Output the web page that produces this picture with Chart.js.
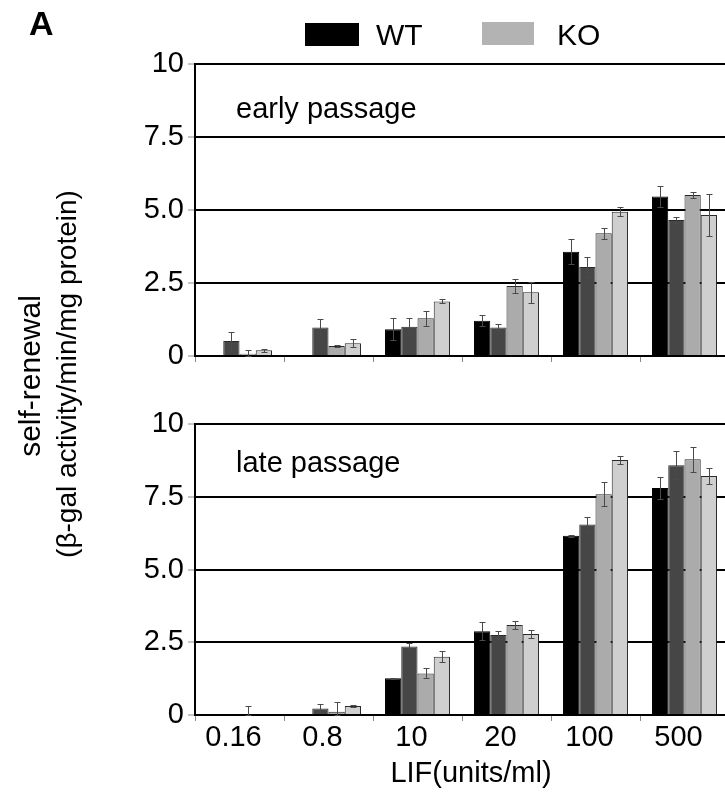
<!DOCTYPE html>
<html>
<head>
<meta charset="utf-8">
<script src="https://cdn.jsdelivr.net/npm/chart.js@4"></script>
<style>
  html, body { margin: 0; padding: 0; background: #fff; overflow: hidden; }
  #wrap { position: relative; width: 725px; height: 798px; overflow: hidden; }
  .layer { position: absolute; left: 0; top: 0; }
</style>
</head>
<body>
<div id="wrap">
  <div class="layer"><canvas id="bottom" width="730" height="798"></canvas></div>
  <div class="layer"><canvas id="top" width="730" height="378"></canvas></div>
</div>
<script>
// ---- data ----
const categories = ['0.16', '0.8', '10', '20', '100', '500'];
const seriesNames = ['WT-1', 'WT-2', 'KO-1', 'KO-2'];
const seriesColors = ['#000000', '#464646', '#ababab', '#cfcfcf'];
const legendNames = ['WT', 'KO'];
const legendColors = ['#000000', '#b3b3b3'];

const earlyWT1 = [0, 0, 0.92, 1.21, 3.57, 5.46];
const earlyWT2 = [0.51, 0.98, 1.00, 0.98, 3.05, 4.66];
const earlyKO1 = [0.08, 0.34, 1.29, 2.40, 4.20, 5.51];
const earlyKO2 = [0.20, 0.44, 1.87, 2.18, 4.94, 4.83];
const earlyErrWT1 = [0, 0, 0.37, 0.18, 0.43, 0.36];
const earlyErrWT2 = [0.30, 0.28, 0.29, 0.10, 0.35, 0.09];
const earlyErrKO1 = [0.14, 0.02, 0.25, 0.23, 0.19, 0.11];
const earlyErrKO2 = [0.05, 0.14, 0.07, 0.37, 0.15, 0.71];

const lateWT1 = [0, 0, 1.26, 2.88, 6.16, 7.80];
const lateWT2 = [0, 0.22, 2.35, 2.75, 6.55, 8.58];
const lateKO1 = [0, 0.11, 1.43, 3.09, 7.59, 8.79];
const lateKO2 = [0, 0.31, 2.00, 2.78, 8.76, 8.21];
const lateErrWT1 = [0, 0, 0.02, 0.31, 0.03, 0.39];
const lateErrWT2 = [0, 0.15, 0.11, 0.14, 0.26, 0.48];
const lateErrKO1 = [0.31, 0.34, 0.17, 0.14, 0.41, 0.43];
const lateErrKO2 = [0, 0.02, 0.19, 0.14, 0.15, 0.27];

const yTickValues = [0, 2.5, 5, 7.5, 10];
const yTickLabels = ['0', '2.5', '5.0', '7.5', '10'];

const FONT = "'Liberation Sans', Arial, Helvetica, sans-serif";

function makeDatasets(values) {
  return values.map((v, i) => ({
    label: seriesNames[i],
    data: v,
    backgroundColor: seriesColors[i],
    borderColor: i === 0 ? '#000' : '#2a2a2a',
    borderWidth: 1,
    categoryPercentage: 0.73,
    barPercentage: 1.0
  }));
}

const errorBarPlugin = {
  id: 'errorBars',
  afterDatasetsDraw(chart, args, opts) {
    const errs = opts.errors || [];
    const ys = chart.scales.y;
    const ctx = chart.ctx;
    ctx.save();
    ctx.strokeStyle = '#4a4a4a';
    ctx.lineWidth = 1;
    chart.data.datasets.forEach((ds, i) => {
      const meta = chart.getDatasetMeta(i);
      meta.data.forEach((bar, j) => {
        const e = errs[i] ? errs[i][j] : 0;
        if (!e) return;
        const v = ds.data[j];
        const x = Math.round(bar.x) + 0.5;
        const yt = Math.round(ys.getPixelForValue(v + e)) + 0.5;
        const yb = Math.round(ys.getPixelForValue(Math.max(0, v - e))) + 0.5;
        ctx.beginPath();
        ctx.moveTo(x, yt); ctx.lineTo(x, yb);
        ctx.moveTo(x - 3, yt); ctx.lineTo(x + 3, yt);
        ctx.moveTo(x - 3, yb); ctx.lineTo(x + 3, yb);
        ctx.stroke();
      });
    });
    ctx.restore();
  }
};

const textPlugin = {
  id: 'texts',
  afterDraw(chart, args, opts) {
    const ctx = chart.ctx;
    ctx.save();
    ctx.fillStyle = '#000';
    (opts.items || []).forEach(t => {
      ctx.save();
      ctx.font = t.font;
      ctx.textAlign = t.align || 'left';
      ctx.textBaseline = t.baseline || 'alphabetic';
      ctx.translate(t.x, t.y);
      if (t.rotate) ctx.rotate(t.rotate);
      ctx.fillText(t.text, 0, 0);
      ctx.restore();
    });
    (opts.boxes || []).forEach(b => {
      ctx.fillStyle = b.color;
      ctx.fillRect(b.x, b.y, b.w, b.h);
    });
    ctx.restore();
  }
};

function yScaleOptions() {
  return {
    min: 0, max: 10,
    afterBuildTicks(scale) { scale.ticks = yTickValues.map(v => ({ value: v })); },
    afterFit(scale) { scale.width = 195; },
    ticks: {
      font: { family: FONT, size: 29 },
      color: '#000',
      padding: 4,
      callback(value) { const k = yTickValues.indexOf(value); return k >= 0 ? yTickLabels[k] : ''; }
    },
    grid: {
      color: ctx => (ctx.tick && ctx.tick.value === 0) ? 'rgba(0,0,0,0)' : '#000',
      lineWidth: 2,
      tickColor: '#8a8a8a',
      tickLength: 7,
      tickWidth: 1
    },
    border: { display: true, color: '#000', width: 2 }
  };
}

function xScaleOptions(showLabels, height) {
  return {
    type: 'category',
    offset: true,
    afterFit(scale) { scale.height = height; },
    ticks: {
      display: showLabels,
      font: { family: FONT, size: 29 },
      color: '#000',
      padding: 0,
      labelOffset: -6,
      maxRotation: 0,
      autoSkip: false
    },
    grid: {
      offset: true,
      drawOnChartArea: false,
      tickColor: '#8a8a8a',
      tickLength: 6,
      tickWidth: 1
    },
    border: { display: true, color: '#000', width: 2 }
  };
}

Chart.defaults.animation = false;

new Chart(document.getElementById('top'), {
  type: 'bar',
  data: { labels: categories, datasets: makeDatasets([earlyWT1, earlyWT2, earlyKO1, earlyKO2]) },
  plugins: [errorBarPlugin, textPlugin],
  options: {
    responsive: false,
    devicePixelRatio: 1,
    animation: false,
    layout: { padding: { top: 64, left: 0, right: 1, bottom: 0 } },
    scales: { x: xScaleOptions(false, 22), y: yScaleOptions() },
    plugins: {
      legend: { display: false },
      tooltip: { enabled: false },
      errorBars: { errors: [earlyErrWT1, earlyErrWT2, earlyErrKO1, earlyErrKO2] },
      texts: {
        items: [
          { text: 'A', x: 29, y: 35, font: 'bold 34px ' + FONT },
          { text: legendNames[0], x: 376, y: 45, font: '30px ' + FONT },
          { text: legendNames[1], x: 557, y: 45, font: '30px ' + FONT },
          { text: 'early passage', x: 236, y: 118, font: '29px ' + FONT }
        ],
        boxes: [
          { x: 305, y: 23, w: 54, h: 23, color: legendColors[0] },
          { x: 482, y: 22, w: 52, h: 23, color: legendColors[1] }
        ]
      }
    }
  }
});

new Chart(document.getElementById('bottom'), {
  type: 'bar',
  data: { labels: categories, datasets: makeDatasets([lateWT1, lateWT2, lateKO1, lateKO2]) },
  plugins: [errorBarPlugin, textPlugin],
  options: {
    responsive: false,
    devicePixelRatio: 1,
    animation: false,
    layout: { padding: { top: 424, left: 0, right: 1, bottom: 38 } },
    scales: { x: xScaleOptions(true, 45), y: yScaleOptions() },
    plugins: {
      legend: { display: false },
      tooltip: { enabled: false },
      errorBars: { errors: [lateErrWT1, lateErrWT2, lateErrKO1, lateErrKO2] },
      texts: {
        items: [
          { text: 'late passage', x: 236, y: 472, font: '29px ' + FONT },
          { text: 'LIF(units/ml)', x: 471, y: 782, align: 'center', font: '29px ' + FONT },
          { text: 'self-renewal', x: 40, y: 376, align: 'center', font: '30px ' + FONT, rotate: -Math.PI / 2 },
          { text: '(\u03B2-gal activity/min/mg protein)', x: 76, y: 374, align: 'center', font: '28px ' + FONT, rotate: -Math.PI / 2 }
        ]
      }
    }
  }
});
</script>
</body>
</html>
